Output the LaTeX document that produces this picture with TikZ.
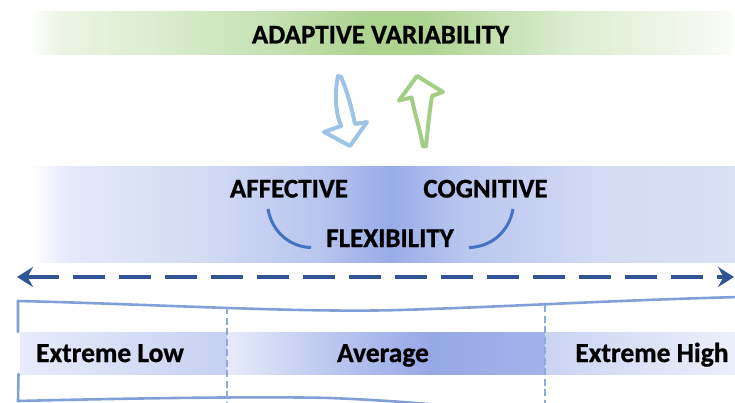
\documentclass[tikz,border=0pt]{standalone}
\usepackage{fontspec}
\setmainfont{Carlito}[BoldFeatures={FakeBold=0.9}]
\usetikzlibrary{arrows.meta}

% palette
\definecolor{gA}{RGB}{236,244,229}
\definecolor{gL}{RGB}{222,238,211}
\definecolor{gM}{RGB}{196,224,176}
\definecolor{gD}{RGB}{172,211,144}
\definecolor{gE}{RGB}{250,252,248}
\definecolor{bA}{RGB}{229,233,249}
\definecolor{bL}{RGB}{211,219,244}
\definecolor{bM}{RGB}{184,197,238}
\definecolor{bD}{RGB}{152,172,232}
\definecolor{bE}{RGB}{218,224,246}
\definecolor{aL}{RGB}{231,235,251}
\definecolor{aM}{RGB}{200,209,242}
\definecolor{aD}{RGB}{150,168,230}
\definecolor{aE}{RGB}{162,178,234}
\definecolor{arrowblue}{RGB}{157,195,230}
\definecolor{arrowgreen}{RGB}{162,206,134}
\definecolor{arcblue}{RGB}{68,114,196}
\definecolor{axisblue}{RGB}{47,85,151}
\definecolor{frameblue}{RGB}{130,160,215}
\definecolor{dividerblue}{RGB}{143,170,220}

% horizontal ramps; the band itself spans 25bp..75bp
\pgfdeclarehorizontalshading{greenband}{100bp}{%
  color(0bp)=(white); color(25bp)=(white); color(27.3bp)=(gA);
  color(32.9bp)=(gL); color(42.9bp)=(gM); color(49bp)=(gD);
  color(53bp)=(gD);
  color(58bp)=(gM); color(64.2bp)=(gL); color(69.8bp)=(gA);
  color(75bp)=(gE); color(100bp)=(gE)}
\pgfdeclarehorizontalshading{blueband}{100bp}{%
  color(0bp)=(white); color(25bp)=(white); color(27.8bp)=(bA);
  color(37.1bp)=(bL); color(45.5bp)=(bM); color(50.5bp)=(bD);
  color(55.6bp)=(bM); color(65.4bp)=(bL); color(75bp)=(bE);
  color(100bp)=(bE)}
\pgfdeclarehorizontalshading{averageband}{100bp}{%
  color(0bp)=(aL); color(25bp)=(aL); color(36.5bp)=(aM);
  color(56.9bp)=(aD); color(75bp)=(aE); color(100bp)=(aE)}

\tikzset{
  title/.style={font=\bfseries\fontsize{27}{30}\selectfont, inner sep=0pt, anchor=base},
  label/.style={font=\bfseries\fontsize{27.5}{30}\selectfont, inner sep=0pt, anchor=base},
  handarrow/.style={line width=4pt, line join=round, line cap=round},
  arc/.style={draw=arcblue, line width=3pt},
  dasharrow/.style={draw=axisblue, line width=4pt, dash pattern=on 32pt off 14pt,
    {Stealth[length=16pt,width=20pt,inset=5.5pt]}-{Stealth[length=16pt,width=20pt,inset=5.5pt]}},
  frame/.style={draw=frameblue, line width=2.6pt, line cap=round, line join=round},
  divider/.style={draw=dividerblue, line width=2.4pt, dash pattern=on 7pt off 3.5pt},
}

\begin{document}
\begin{tikzpicture}[x=1pt,y=-1pt]
\useasboundingbox (0,0) rectangle (735,403);
\clip (0,0) rectangle (735,403);

% top band
\shade[shading=greenband] (28,12) rectangle (733,55);
\node[title] (adaptive) at (380.5,43.5) {ADAPTIVE VARIABILITY};

% outlined hand-drawn arrows between the bands
\draw[handarrow, draw=arrowblue]
  (338,76) .. controls (334,95) and (336,114) .. (341,126)
  -- (324,132) -- (350,146) -- (367,122) -- (355,124)
  .. controls (351,105) and (346,88) .. (341,77) -- cycle;
\draw[handarrow, draw=arrowgreen]
  (417,76) -- (443,92) -- (432,96)
  .. controls (429,115) and (427,135) .. (426,146.5) -- (423,146.5)
  .. controls (420,130) and (414,110) .. (411.5,97.5) -- (399,100.5) -- cycle;

% middle band
\shade[shading=blueband] (30,167) rectangle (735,262);
\node[title] (affective) at (289,197.5) {AFFECTIVE};
\node[title] (cognitive) at (485.5,197.5) {COGNITIVE};
\node[title] (flexibility) at (390,247) {FLEXIBILITY};
\draw[arc] (268,209) .. controls (272,232) and (290,247) .. (311,247.5);
\draw[arc] (513,209) .. controls (509,232) and (491,247) .. (469,247.5);

% axis
\coordinate (low end) at (17,277);
\coordinate (high end) at (734,277);
\draw[dasharrow] (low end) -- (high end);

% frame of the scale
\draw[frame] (18,332) -- (18,301)
  .. controls (150,304) and (300,313) .. (400,310)
  .. controls (500,307) and (620,300) .. (740,297);
\draw[frame] (18.5,374) -- (18,401)
  .. controls (100,399) and (250,396) .. (330,398)
  .. controls (380,400) and (420,403) .. (460,407);

% scale segments
\shade[left color=aL, right color={rgb,255:red,198;green,208;blue,241}] (20,332) rectangle (227,374);
\shade[shading=averageband] (227,332) rectangle (545,374);
\shade[left color={rgb,255:red,203;green,211;blue,242}, right color={rgb,255:red,236;green,239;blue,251}] (545,332) rectangle (735,374);

\draw[divider] (227,307) -- (227,403);
\draw[divider] (545,305) -- (545,403);

\node[label] (low) at (110,362) {Extreme Low};
\node[label] (average) at (383,362) {Average};
\node[label] (high) at (652,362) {Extreme High};
\end{tikzpicture}
\end{document}
